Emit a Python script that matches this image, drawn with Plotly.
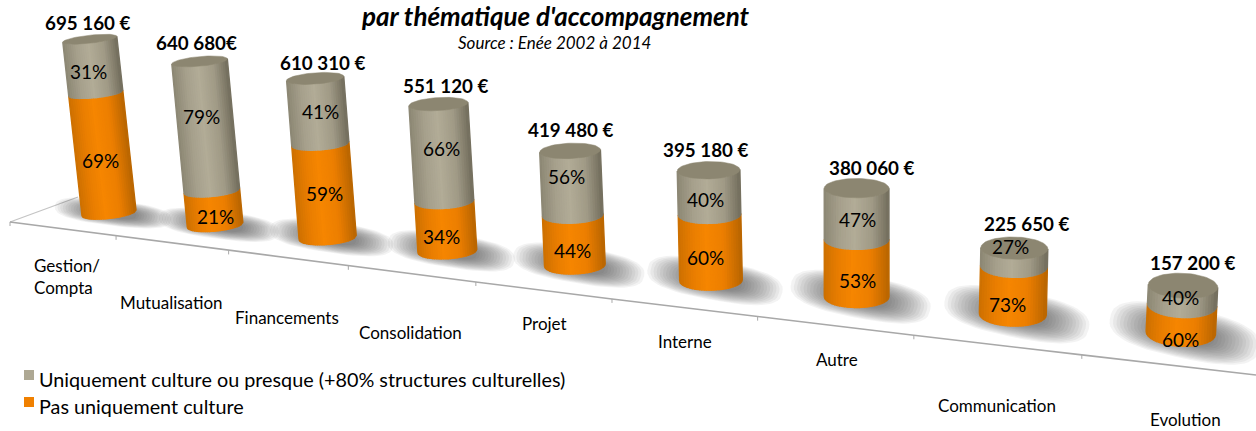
import numpy as np
import plotly.graph_objects as go

# ---- data ----
categories = ["Gestion/<br>Compta", "Mutualisation", "Financements", "Consolidation", "Projet",
              "Interne", "Autre", "Communication", "Evolution"]
totals = [695160, 640680, 610310, 551120, 419480, 395180, 380060, 225650, 157200]
total_labels = ["695 160 €", "640 680€", "610 310 €", "551 120 €", "419 480 €",
                "395 180 €", "380 060 €", "225 650 €", "157 200 €"]
culture_pct = [31, 79, 41, 66, 56, 40, 47, 27, 40]
other_pct = [69, 21, 59, 34, 44, 60, 53, 73, 60]
series_names = ["Uniquement culture ou presque (+80% structures culturelles)", "Pas uniquement culture"]
title_text = "par thématique d'accompagnement"
source_text = "Source : Enée 2002 à 2014"

# ---- layout constants (canvas pixel anchors for text) ----
W, H = 1256, 431
K = 2.5e-4                 # pixels per euro on the value axis
FONT = "Lato, Carlito, Calibri, sans-serif"
TOTAL_POS = [(87, 22), (196, 42), (322, 62), (445, 85), (570, 129), (705, 149), (871, 167), (1026, 223), (1192, 262)]
CULT_POS = [(88, 71), (201, 116), (320, 111), (441, 148), (566, 176), (705, 199), (857, 219), (1010, 246), (1180, 297)]
OTHER_POS = [(100, 160), (215, 216), (324, 193), (441, 236), (572, 250), (705, 257), (857, 280), (1007, 304), (1180, 339)]
CAT_POS = [(32, 276), (171, 302), (287, 317), (410, 332), (544, 323), (685, 341), (837, 359), (997, 405), (1185, 419)]


def yv(py):
    """Canvas row to value-axis units."""
    return (H - np.asarray(py, dtype=float)) / K


def depth(i):
    return 1 / (1 - 0.0289 * i)


def radius(i):
    return 27 * depth(i) ** 0.95


def base_x(i):
    return 109 + 103 * i * depth(i)


def base_y(x):
    return 213 + 0.112 * (x - 109)


def interp_color(stops, t):
    ts = [s[0] for s in stops]
    rgb = [np.interp(t, ts, [s[1][c] for s in stops]) for c in range(3)]
    return "rgb(%d,%d,%d)" % tuple(int(round(v)) for v in rgb)


ORANGE = [(-1, (205, 112, 0)), (-0.55, (232, 125, 0)), (-0.1, (246, 134, 0)), (0.45, (236, 126, 0)), (1, (186, 102, 0))]
GREY = [(-1, (140, 135, 116)), (-0.5, (166, 160, 140)), (-0.05, (178, 172, 151)), (0.5, (160, 154, 134)), (1, (116, 111, 94))]
CAP = "rgb(140,134,113)"
N_STRIPS = 26

fig = go.Figure()
common = dict(mode="lines", hoverinfo="skip", showlegend=False)

# floor
tick_x = [10 + 103 * j * depth(j) for j in range(0, 10)]


def floor_y(x):
    return 222 + 0.1228 * (x - 10) + 3 * np.sin(np.pi * np.clip((x - 10) / 1246, 0, 1))


fig.add_trace(go.Scatter(x=[78, 10], y=yv([197, 222]), line=dict(color="#c4c4c4", width=1.3), **common))
xs = np.array(tick_x[:9] + [W])
fig.add_trace(go.Scatter(x=xs, y=yv(floor_y(xs)), line=dict(color="#a8a8a8", width=1.6), **common))
for tx in tick_x[:9]:
    fig.add_trace(go.Scatter(x=[tx, tx], y=yv([floor_y(tx), floor_y(tx) + 4]), line=dict(color="#a8a8a8", width=1), **common))

# shadows
for i in range(len(totals)):
    bx = base_x(i)
    by = base_y(bx)
    r = radius(i)
    phi = np.linspace(0, 2 * np.pi, 60)
    for s in np.linspace(1, 0.4, 14):
        a = r * 2.15 * s
        b = r * (0.47 + 0.03 * i) * s
        # squarish outline gives the flat streak of the reference's blurred shadow
        ex = a * np.sign(np.cos(phi)) * np.abs(np.cos(phi)) ** 0.75
        ey = b * np.sign(np.sin(phi)) * np.abs(np.sin(phi)) ** 0.75
        rot = 0.12 + 0.012 * i
        px = bx + 4 + ex - rot * ey
        py = by + ey + rot * ex
        fig.add_trace(go.Scatter(x=px, y=yv(py), fill="toself", fillcolor="rgba(60,60,60,0.062)",
                                 line=dict(width=0), **common))


# cylinders
def point(i, phi, z):
    bx = base_x(i)
    by = base_y(bx)
    r = radius(i)
    L = (860 - bx) / 6800
    e = 0.2 + 0.022 * i - 0.0003 * z
    x = bx - L * z + r * np.cos(phi) + e * r * np.sin(phi) * L
    y = by - z - L * r * np.cos(phi) + e * r * np.sin(phi)
    return x, y


for i, total in enumerate(totals):
    h = total * K * depth(i) ** 0.7
    h_other = h * other_pct[i] / 100
    # strips of equal on-screen width, left to right
    edges = np.arccos(np.linspace(-1, 1, N_STRIPS + 1))
    for z0, z1, stops in [(0, h_other, ORANGE), (h_other, h, GREY)]:
        for p0, p1 in zip(edges[:-1], edges[1:]):
            col = interp_color(stops, np.cos((p0 + p1) / 2))
            sub = np.linspace(p0, p1, 3)
            xa, ya = point(i, sub, z0)
            xb, yb = point(i, sub[::-1], z1)
            fig.add_trace(go.Scatter(x=np.r_[xa, xb, xa[0]], y=yv(np.r_[ya, yb, ya[0]]), fill="toself",
                                     fillcolor=col, line=dict(color=col, width=1.4), **common))
    phi = np.linspace(0, 2 * np.pi, 70)
    xc, yc = point(i, phi, h)
    fig.add_trace(go.Scatter(x=xc, y=yv(yc), fill="toself", fillcolor=CAP, line=dict(color=CAP, width=0.5), **common))

# legend swatches
fig.add_trace(go.Scatter(x=[29, 29], y=yv([375, 402]), mode="markers", hoverinfo="skip", showlegend=False,
                         marker=dict(symbol="square", size=10, color=["#aea893", "#f08000"])))

ann = []


def text(x, y, t, size, xanchor="center", **kw):
    ann.append(dict(x=x, y=float(yv(y)), xref="x", yref="y", text=t, showarrow=False, xanchor=xanchor, yanchor="middle",
                    font=dict(family=FONT, size=size, color="black"), **kw))


text(555, 16, "<b><i>%s</i></b>" % title_text, 26)
text(554, 42, "<i>%s</i>" % source_text, 17)
for t, p in zip(total_labels, TOTAL_POS):
    text(p[0], p[1], "<b>%s</b>" % t, 18.8)
for v, p in zip(culture_pct, CULT_POS):
    text(p[0], p[1], "%d%%" % v, 19)
for v, p in zip(other_pct, OTHER_POS):
    text(p[0], p[1], "%d%%" % v, 19)
for c, p in zip(categories, CAT_POS):
    if "<br>" in c:
        text(p[0], p[1], c, 17, xanchor="left", align="left")
    else:
        text(p[0], p[1], c, 17)
text(37, 379, series_names[0], 19.8, xanchor="left")
text(37, 406, series_names[1], 19.8, xanchor="left")

fig.update_layout(
    width=W, height=H, margin=dict(l=0, r=0, t=0, b=0, pad=0), autosize=False,
    paper_bgcolor="white", plot_bgcolor="white", showlegend=False, annotations=ann,
    xaxis=dict(range=[0, W], visible=False, fixedrange=True),
    yaxis=dict(range=[0, H / K], visible=False, fixedrange=True),
)
fig.write_html("out.html", config=dict(displayModeBar=False),
               post_script="document.body.style.margin='0';document.body.style.overflow='hidden';")
